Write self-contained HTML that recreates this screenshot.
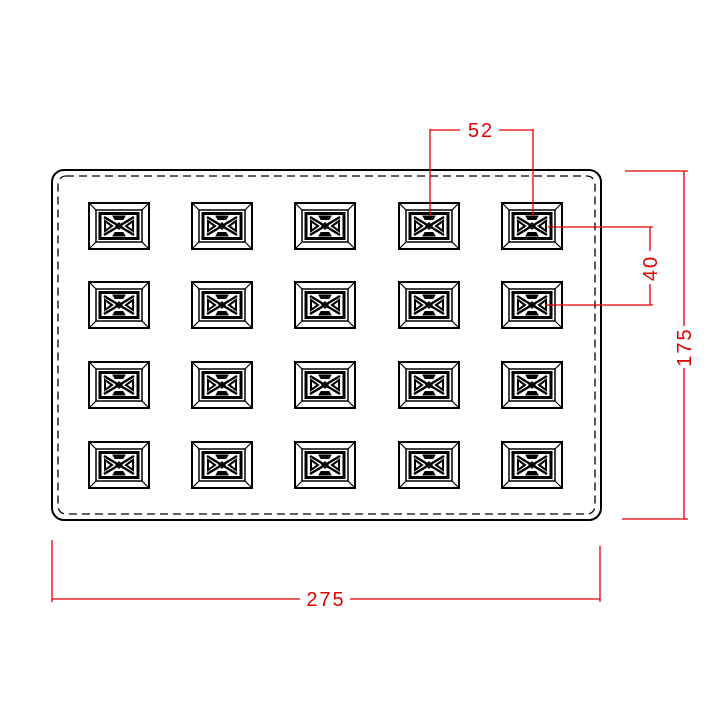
<!DOCTYPE html>
<html><head><meta charset="utf-8"><style>
html,body{margin:0;padding:0;background:#fff;}
svg{display:block;}
</style></head><body>
<svg width="720" height="720" viewBox="0 0 720 720" xmlns="http://www.w3.org/2000/svg">
<defs>
<g id="c" fill="none" stroke="#000">
  <rect x="-30" y="-23" width="60" height="46" stroke-width="2"/>
  <rect x="-23" y="-16" width="46" height="32" stroke-width="1.5"/>
  <path d="M-30,-23 L-23,-16 M30,-23 L23,-16 M-30,23 L-23,16 M30,23 L23,16" stroke-width="1.2"/>
  <rect x="-19" y="-12.5" width="38" height="25" stroke-width="3"/>
  <path d="M-15,-9 L15,9 M15,-9 L-15,9" stroke-width="2.4"/>
  <path d="M-14,-5 L-14,5 L-7,0 Z M14,-5 L14,5 L7,0 Z" stroke-width="2"/>
  <path d="M-6,-10 L6,-10 L4,-6.5 L-4,-6.5 Z M-6,10 L6,10 L4,6.5 L-4,6.5 Z" fill="#000" stroke-width="1"/>
  <path d="M0,-3 L3,0 L0,3 L-3,0 Z" stroke-width="1.4"/>
</g>
</defs>
<rect x="52" y="170" width="549" height="350" rx="12" fill="none" stroke="#000" stroke-width="2"/>
<rect x="58" y="176" width="537" height="338" rx="8" fill="none" stroke="#000" stroke-width="1.3" stroke-dasharray="8,5"/>
<g>
<use href="#c" x="119" y="226"/><use href="#c" x="222" y="226"/><use href="#c" x="325" y="226"/><use href="#c" x="429" y="226"/><use href="#c" x="532" y="226"/>
<use href="#c" x="119" y="305"/><use href="#c" x="222" y="305"/><use href="#c" x="325" y="305"/><use href="#c" x="429" y="305"/><use href="#c" x="532" y="305"/>
<use href="#c" x="119" y="385"/><use href="#c" x="222" y="385"/><use href="#c" x="325" y="385"/><use href="#c" x="429" y="385"/><use href="#c" x="532" y="385"/>
<use href="#c" x="119" y="465"/><use href="#c" x="222" y="465"/><use href="#c" x="325" y="465"/><use href="#c" x="429" y="465"/><use href="#c" x="532" y="465"/>
</g>
<g stroke="#e00000" stroke-width="1.3" fill="none">
  <path d="M430,129 L430,216 M533,129 L533,216 M430,130 L460,130 M499,130 L533,130"/>
  <path d="M548,227 L653,227 M545,305 L653,305 M650,227 L650,251 M650,284 L650,305"/>
  <path d="M625,171 L688,171 M622,519 L688,519 M684,171 L684,326 M684,368 L684,519"/>
  <path d="M52,540 L52,602 M600,546 L600,602 M52,599 L300,599 M350,599 L600,599"/>
</g>
<g fill="#e00000" font-family="Liberation Sans, sans-serif" font-size="20" letter-spacing="2">
  <text x="481" y="137" text-anchor="middle">52</text>
  <text x="326" y="606" text-anchor="middle">275</text>
  <text transform="translate(657,268) rotate(-90)" text-anchor="middle">40</text>
  <text transform="translate(691,347) rotate(-90)" text-anchor="middle">175</text>
</g>
</svg>
</body></html>
